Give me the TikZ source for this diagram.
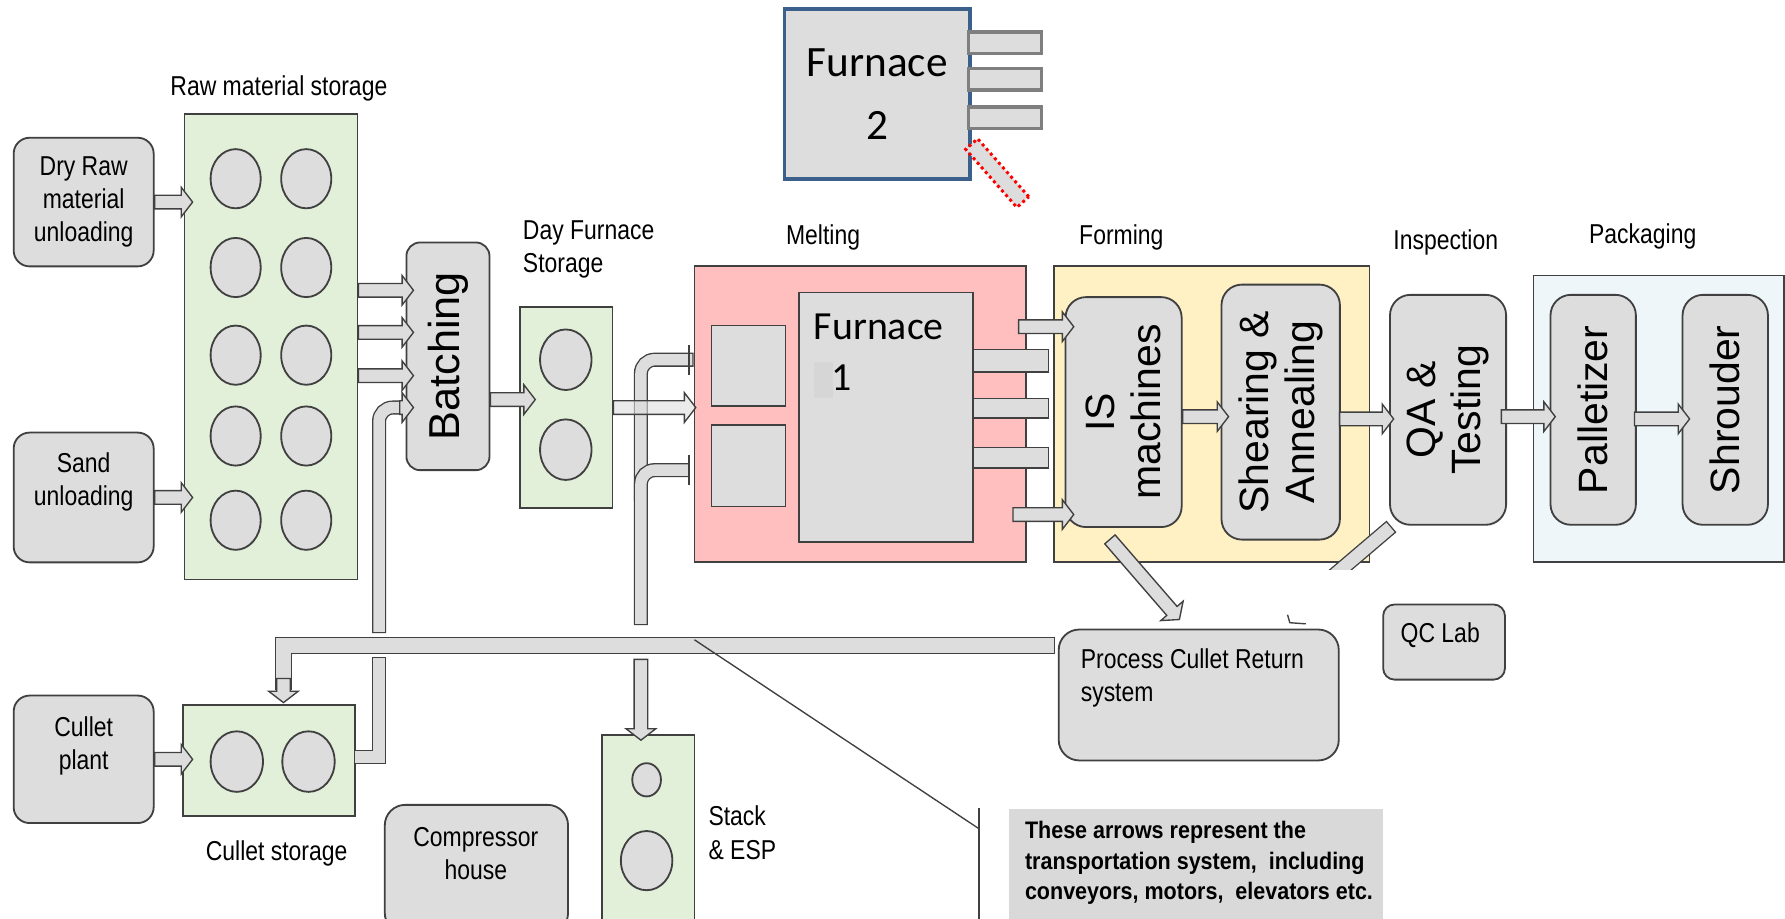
\documentclass[tikz,border=0pt]{standalone}
\usepackage{fontspec}
\setmainfont{Liberation Sans}
\newfontfamily\narrowfont{Liberation Sans}[FakeStretch=0.84]
\newfontfamily\legendfont{Liberation Sans}[FakeStretch=0.9]
\newfontfamily\furnfont{Carlito}
\usetikzlibrary{calc, positioning}

\definecolor{boxc}{RGB}{221,221,221}
\definecolor{linec}{RGB}{64,64,64}
\definecolor{greenc}{RGB}{226,240,217}
\definecolor{pinkc}{RGB}{255,191,191}
\definecolor{yellowc}{RGB}{255,241,196}
\definecolor{bluec}{RGB}{238,246,250}
\definecolor{furnblue}{RGB}{60,96,140}
\definecolor{tubec}{RGB}{127,127,127}
\definecolor{legendc}{RGB}{217,217,217}

\newcommand{\blockarrow}[3][]{%
  \coordinate (ba-s) at (#2);
  \coordinate (ba-e) at (#3);
  \coordinate (ba-h) at ($(ba-e)!5pt!(ba-s)$);
  \draw[barrow,#1] ($(ba-s)!3pt!90:(ba-e)$) -- ($(ba-h)!3pt!90:(ba-e)$) -- ($(ba-h)!6.5pt!90:(ba-e)$) -- (ba-e)
    -- ($(ba-h)!6.5pt!-90:(ba-e)$) -- ($(ba-h)!3pt!-90:(ba-e)$) -- ($(ba-s)!3pt!-90:(ba-e)$) -- cycle;
}

\begin{document}
\begin{tikzpicture}[x=0.5pt, y=-0.5pt,
    unit/.style={draw=linec, fill=boxc, line width=0.8pt, rounded corners=7pt, inner sep=0pt},
    store/.style={draw=linec, fill=greenc, line width=0.8pt, inner sep=0pt},
    zone/.style={draw=linec, line width=0.8pt, inner sep=0pt},
    lbl/.style={font=\narrowfont\fontsize{12}{14.5}\selectfont, align=center, inner sep=0pt},
    vtext/.style={rotate=90, font=\fontsize{18}{20}\selectfont, align=center, inner sep=0pt},
    bin/.style={draw=linec, fill=boxc, line width=0.8pt},
    tube/.style={draw=linec, fill=boxc, line width=0.7pt},
    barrow/.style={draw=linec, fill=boxc, line width=0.6pt},
    pipe/.style={draw=boxc, line width=#1, line cap=rect, preaction={draw=linec, line width=#1+1.2pt, line cap=rect}},
    pipe/.default=5pt,
    pipeb/.style={draw=boxc, line width=#1, preaction={draw=linec, line width=#1+1.2pt}},
    pipeb/.default=5pt]
  \useasboundingbox (0,0) rectangle (1568,807);
  \clip (0,0) rectangle (1568,807);

  % furnace 2
  \node[draw=furnblue, line width=1.6pt, fill=boxc, minimum width=81.5pt, minimum height=74.5pt, inner sep=0pt,
        font=\furnfont\fontsize{19}{27.5}\selectfont, align=center] (fur2) at (770.5,82.5) {Furnace\\2};
  \foreach \yy in {28,60,94}
    \draw[draw=tubec, fill=boxc, line width=1.5pt] (851,\yy) rectangle (915,\yy+19);
  \node[draw=red, fill=boxc, line width=1.3pt, dash pattern=on 1.3pt off 1.4pt, minimum width=34pt,
        minimum height=7pt, inner sep=0pt, rotate=-48.6] (flue) at (876,152) {};

  % section labels
  \node[lbl] (rawl) at (245,78) {Raw material storage};
  \node[lbl, align=left, anchor=west] (dayl) at (459,219.5) {Day Furnace\\Storage};
  \node[lbl] (meltl) at (723,209) {Melting};
  \node[lbl] (forml) at (985,209) {Forming};
  \node[lbl] (inspl) at (1270,213) {Inspection};
  \node[lbl] (packl) at (1443,208) {Packaging};

  % zones
  \node[store, minimum width=76pt, minimum height=204.5pt] (raw) at (238,304.5) {};
  \node[zone, fill=pinkc, minimum width=145.5pt, minimum height=130pt] (melt) at (755.5,364) {};
  \node[zone, fill=yellowc, minimum width=138.5pt, minimum height=130pt] (form) at (1064.5,364) {};
  \node[zone, fill=bluec, minimum width=110pt, minimum height=126pt] (pack) at (1457,368) {};

  % unloading
  \node[unit, lbl, minimum width=61.5pt, minimum height=56.5pt] (dry) at (73.5,177.5) {Dry Raw\\material\\unloading};
  \node[unit, minimum width=61.5pt, minimum height=57pt] (sand) at (73.5,437) {};
  \node[lbl] (sandt) at (73.5,423) {Sand\\unloading};
  \node[unit, minimum width=61.5pt, minimum height=56pt] (cpl) at (73.5,667) {};
  \node[lbl] (cplt) at (73.5,655) {Cullet\\plant};

  \foreach \yy in {157,235,312,383,457} {
    \draw[bin] (207,\yy) ellipse [x radius=11pt, y radius=13pt];
    \draw[bin] (269,\yy) ellipse [x radius=11pt, y radius=13pt];
  }

  % batching and day storage
  \node[unit, rounded corners=6pt, minimum width=36.5pt, minimum height=100pt] (batch) at (393.5,313) {};
  \node[vtext, font=\fontsize{19}{21}\selectfont] (batcht) at (393.5,313) {Batching};
  \node[store, minimum width=40.5pt, minimum height=88pt] (day) at (497.5,358) {};
  \draw[bin] (497,316) ellipse [x radius=11.3pt, y radius=13.3pt];
  \draw[bin] (497,395) ellipse [x radius=11.3pt, y radius=13.3pt];

  % melting
  \node[zone, fill=boxc, minimum width=32.5pt, minimum height=35.5pt] (sq1) at (657.5,321.5) {};
  \node[zone, fill=boxc, minimum width=32.5pt, minimum height=36pt] (sq2) at (657.5,409) {};
  \node[zone, fill=boxc, minimum width=76.5pt, minimum height=109.5pt] (fur1) at (778.5,366.5) {};
  \node[font=\furnfont\fontsize{17.5}{20}\selectfont, inner sep=0pt] (fur1t) at (772,287) {Furnace};
  \fill[black!16] (715,318) rectangle (732,350);
  \node[font=\furnfont\fontsize{17.5}{20}\selectfont, inner sep=0pt] (fur1n) at (739,332) {1};
  \draw[tube] (855,307) rectangle (921,327);
  \draw[tube] (855,350) rectangle (921,367);
  \draw[tube] (855,393) rectangle (921,411);

  % forming, inspection, packaging
  \node[unit, rounded corners=9pt, minimum width=51pt, minimum height=101pt] (ism) at (987,362) {};
  \node[vtext] (ismt) at (987,362) {IS\\machines};
  \node[unit, rounded corners=9pt, minimum width=52pt, minimum height=112pt] (shear) at (1125,362) {};
  \node[vtext] (sheart) at (1125,362) {Shearing \&\\Annealing};
  \node[unit, rounded corners=9pt, minimum width=51pt, minimum height=101pt] (qa) at (1272,360) {};
  \node[vtext] (qat) at (1272,360) {QA \&\\Testing};
  \node[unit, rounded corners=9pt, minimum width=37.5pt, minimum height=101pt] (pal) at (1399.5,360) {};
  \node[vtext] (palt) at (1399.5,360) {Palletizer};
  \node[unit, rounded corners=9pt, minimum width=37.5pt, minimum height=101pt] (shr) at (1515.5,360) {};
  \node[vtext] (shrt) at (1515.5,360) {Shrouder};

  % lower row
  \node[unit, rounded corners=9pt, minimum width=123pt, minimum height=57.5pt] (pcr) at (1053,610.5) {};
  \node[lbl, align=left, anchor=west] (pcrt) at (949,595.5) {Process Cullet Return\\system};
  \node[unit, rounded corners=5pt, minimum width=53.5pt, minimum height=33pt] (qc) at (1268.5,564) {};
  \node[lbl, anchor=west] (qct) at (1230,558) {QC Lab};
  \node[store, minimum width=75.5pt, minimum height=49pt] (cst) at (236.5,668) {};
  \draw[bin] (208,669) ellipse [x radius=11.5pt, y radius=13.3pt];
  \draw[bin] (271,669) ellipse [x radius=11.5pt, y radius=13.3pt];
  \node[lbl] (cstl) at (243,750) {Cullet storage};
  \node[store, minimum width=40.5pt, minimum height=84.5pt] (stack) at (569.5,730.5) {};
  \draw[bin] (568,685) ellipse [x radius=6.3pt, y radius=7.3pt];
  \draw[bin] (568,756) ellipse [x radius=11.3pt, y radius=13pt];
  \node[lbl, align=left, anchor=west] (stackl) at (622,731.5) {Stack\\\& ESP};
  \node[unit, rounded corners=9pt, minimum width=80.5pt, minimum height=56.5pt] (comp) at (418.5,763.5) {};
  \node[lbl] (compt) at (418,750) {Compressor\\house};

  % conveyor pipes
  \coordinate (batchfeed) at (333,550);
  \coordinate (cullup) at (333,583);
  \coordinate (meltfeed) at (563,543);
  \draw[pipe, rounded corners=6pt] (batchfeed) -- (333,358) -- ($(batch.west|-0,358)+(-5,0)$);
  \blockarrow{$(batch.west|-0,358)+(-5,0)$}{$(batch.west|-0,358)+(7,0)$}
  \draw[pipe] ($(cst.east)+(4,-3)$) -- (333,665) -- (cullup);
  \draw[pipe, rounded corners=6pt] (meltfeed) -- (563,316) -- ($(melt.west|-0,316)+(-6,0)$);
  \draw[pipeb, rounded corners=6pt] (563,440) -- (563,413) -- ($(melt.west|-0,413)+(-4,0)$);
  \draw[linec, line width=1.2pt] ($(melt.west|-0,303)+(-4,0)$) -- ($(melt.west|-0,329)+(-4,0)$);
  \draw[linec, line width=1.2pt] ($(melt.west|-0,400)+(-4,0)$) -- ($(melt.west|-0,426)+(-4,0)$);
  \draw[pipe=6.5pt] ($(pcr.west|-0,567)+(-10,0)$) -- (249,567) -- (249,598);
  \blockarrow{249,596}{$(cst.north)+(12.5,-1)$}
  \begin{scope}
    \clip (1100,440) rectangle (1260,500);
    \draw[pipe=5.5pt] ($(qa.south west)+(-3,5)$) -- (1150,524);
  \end{scope}
  \draw[linec, line width=0.6pt] (1131,540) -- (1133,547) -- (1147,548);

  % transport arrows
  \blockarrow{dry.east}{$(raw.west|-dry.east)+(8,0)$}
  \blockarrow{sand.east}{$(raw.west|-sand.east)+(8,0)$}
  \blockarrow{cpl.east}{$(cst.west|-cpl.east)+(9,0)$}
  \foreach \yy in {255,292,330} {
    \blockarrow{raw.east|-0,\yy}{$(batch.west|-0,\yy)+(7,0)$}
  }
  \blockarrow{batch.east|-0,351}{$(day.west|-0,351)+(14,0)$}
  \blockarrow[fill opacity=0.6]{day.east}{$(melt.west|-day.east)+(2,0)$}
  \blockarrow{$(melt.east|-0,287)+(-7,0)$}{$(ism.west|-0,287)+(8,0)$}
  \blockarrow{$(melt.east|-0,452)+(-12,0)$}{$(ism.west|-0,452)+(8,0)$}
  \blockarrow{ism.east|-0,366}{$(shear.west|-0,366)+(7,0)$}
  \blockarrow{$(shear.east|-0,368)+(-1,0)$}{$(qa.west|-0,368)+(4,0)$}
  \blockarrow{$(qa.east|-0,366)+(-5,0)$}{$(pal.west|-0,366)+(5,0)$}
  \blockarrow{$(pal.east|-0,368)+(-2,0)$}{$(shr.west|-0,368)+(7,0)$}
  \blockarrow{$(ism.south)+(-12,10)$}{$(pcr.north)+(-17,-8)$}
  \blockarrow{$(stack.north)+(-6.5,-66)$}{$(stack.north)+(-6.5,5)$}

  % legend
  \coordinate (callA) at (610,562);
  \coordinate (callB) at (860,728);
  \draw[linec, line width=0.6pt] (callA) -- (callB);
  \draw[linec, line width=0.6pt] (860,710) -- (860,810);
  \node[fill=legendc, minimum width=164.5pt, minimum height=52pt, inner sep=0pt] (legend) at (1050.5,763) {};
  \node[font=\legendfont\bfseries\fontsize{10.5}{13.5}\selectfont, align=left, anchor=west, inner sep=0pt] (legendt) at (900,758)
    {These arrows represent the\\transportation system,\ \ including\\conveyors, motors,\ \ elevators etc.};
\end{tikzpicture}
\end{document}
